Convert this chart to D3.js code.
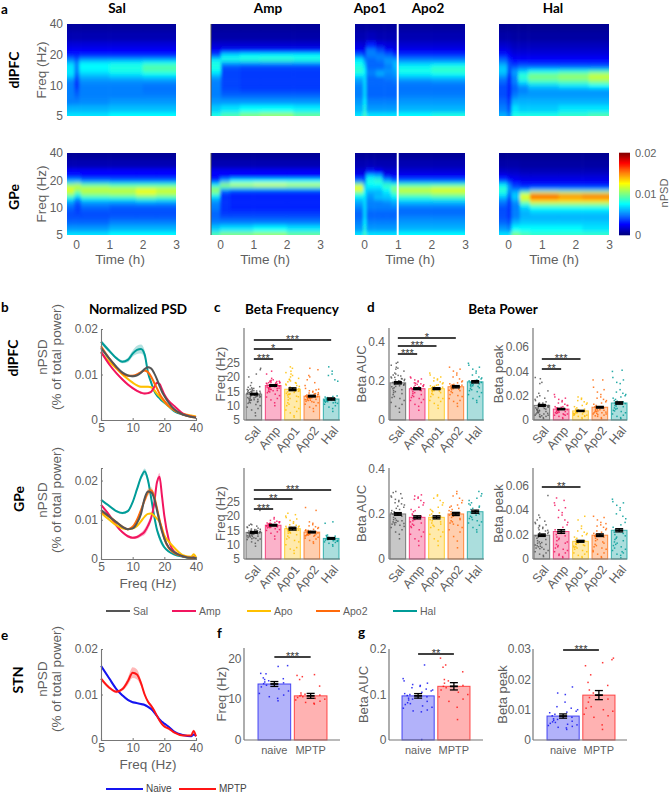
<!DOCTYPE html>
<html><head><meta charset="utf-8">
<script src="https://cdn.jsdelivr.net/npm/d3@7"></script>
<style>html,body{margin:0;padding:0;background:#fff}svg{display:block}</style>
</head><body><svg id="c" width="670" height="793"></svg>
<script>
// ---- shared categories and colours
const groups=["Sal","Amp","Apo1","Apo2","Hal"];
const groupColors=["#555555","#f2155f","#ffc000","#ff6a0a","#009c98"];
const stnGroups=["naive","MPTP"];
const stnColors=["#1515f0","#ff1515"];
// ---- spectrogram rows (Hz); every column = [start time (h), nPSD x 1e-3 per row]
const heatFreqs=[5,6,7,8,9,10,11,12,13,14,15,16,17,18,20,22,25,30,40];
const heatDlSal=[
[-.27,7,6,5,5,5,5,5,6,7,7,7,7,6,5,3,2.5,1.8,1,.6],
[-.05,7,6,5,4.5,4,3.5,3.5,4,4.5,5,5,5,5,4,3,2.5,1.8,1,.6],
[.1,7,6,5.2,5,5,5,5.2,5.8,6.5,7.2,7.5,7.5,7,5.5,3.2,2.5,1.8,1,.6],
[1,7.5,6.2,5.5,5,5,5,5.2,6,7,8,8,8,7.2,5.5,3.2,2.5,1.8,1,.6],
[2,7.5,6.2,5.5,5,4.8,4.8,5.2,6.2,7.6,8.8,9.2,8.8,7.6,5.6,3.2,2.5,1.8,1,.6]];
const heatDlAmp=[
[-.27,8,6.5,5.5,5,5,5,5,5.5,6.5,7.6,8,8,8,7,4,2.5,1.6,.8,.5],
[.03,9,7,5.5,4.5,4,3.8,3.8,3.8,3.8,3.8,4,4.5,6,8,7,3,1.6,.8,.5],
[.6,10,7.5,5.5,4.5,3.8,3.6,3.6,3.6,3.6,3.6,3.8,4.2,6,8.3,7.5,3,1.6,.8,.5],
[1.2,10.5,7.5,5.5,4.5,3.8,3.6,3.6,3.6,3.6,3.6,3.8,4.2,6,8.6,7.5,3,1.6,.8,.5],
[2.2,9.5,7.2,5.5,4.5,3.8,3.6,3.6,3.6,3.6,3.6,3.8,4.2,6,8.2,7.5,3,1.6,.8,.5]];
const heatDlApo=[
[-.27,7,6,5.5,5,5,5,5.5,6,7.5,8.5,8,8,7.5,7,4.5,2.5,1.8,1,.6],
[-.02,9,8,7.5,7,7,7,7,7,7,7.5,7,6.5,6,5,3.5,2.2,1.6,1,.6],
[.06,7,5.5,5,4.5,4.5,4.5,4.5,4.5,5,5,4.5,4.5,4.5,4.5,5,5,3,1.2,.6],
[.35,7,5.5,5,4.5,4.5,4.5,4.5,4.5,6,5.5,4.5,4.5,4.5,5,5,4,2,1,.6],
[.6,7,5.5,5,4.5,4.5,4.5,4.5,5,5,5.5,5,5,5.5,5.5,4.5,2.8,1.8,1,.6],
[.85,7,5.5,5,4.5,4.5,4.5,4.8,5,5.5,5.5,6,6,6,5.5,3.5,2.2,1.6,1,.6],
[1,7.5,6,5.5,5,4.8,4.8,5,6,7.2,8,7.8,7,6,5,3.5,2.3,1.6,1,.6],
[2,8,6,5.5,5,4.8,4.8,5.2,6.2,7.6,8.5,8.5,7.5,6,5,3.5,2.3,1.6,1,.6]];
const heatDlHal=[
[-.27,6,5,4.5,4,4,4,4.5,5,6,6.5,6.5,6,5,4.5,3,2.2,1.5,.8,.4],
[-.03,5,4,3.5,3,3,3,3,3,3.5,4,4,4,3.8,3,2.5,2,1.4,.8,.4],
[.1,8,7,6,5,4.5,4.5,5,5,5.5,5.5,4.5,3.5,3,2.5,2,1.6,1.2,.7,.4],
[.3,8,6.5,6,5.5,5,5.5,7,8.5,8,6.5,5,4,3,2.5,2,1.6,1.2,.7,.4],
[.6,8,6.5,6,5.5,5.5,6.5,8.5,10,9.5,7.5,5,3.8,3,2.5,2,1.6,1.2,.7,.4],
[1.5,8.5,7,6,5.5,5.5,7,9,10.5,10,8,5,3.8,3,2.5,2,1.6,1.2,.7,.4],
[2.4,9,7,6,5.5,5.5,7.5,10,11.5,11,8.5,5,3.8,3,2.5,2,1.6,1.2,.7,.4]];
const heatGpSal=[
[-.27,7,5.5,4.5,4,4,4.5,5,6,8,10,11.5,12,11.5,10,6,3.2,2.6,1,.5],
[-.05,7,5.5,4.5,4,3.8,3.8,4,4.5,6,8,9.5,10.5,11.5,10.5,6,3.2,2.6,1,.5],
[.15,7,5.5,4.5,4,4,4.5,5,6,8,10,11,11.2,11,9,5,2.8,2.6,1,.5],
[1,7.5,6,5,4.2,4,4.2,4.8,6,8.2,10.2,11.2,11.2,10.5,8.5,4.8,2.8,2.6,1,.5],
[1.8,7.5,6,5,4.2,4,4.2,4.8,6.5,9,11,12.5,12,10.5,8.5,4.8,2.8,2.6,1,.5],
[2.4,7.5,6,5,4.2,4,4.2,4.8,6.2,8.5,10.5,11.5,11.5,10.5,8.5,4.8,2.8,2.6,1,.5]];
const heatGpAmp=[
[-.27,9,6.5,5,4.5,4.5,5,5,5.5,6.5,8,10,10.5,9.5,7,3.5,2.5,2.4,1,.5],
[0,10,7,5,4,3.5,3.5,3.5,3.5,3.5,3.5,4,5.5,9,10.5,6,2.5,2.4,1,.5],
[.3,10,7,5,4,3.5,3.2,3.2,3.2,3.2,3.2,3.5,4.5,8.5,11.5,7.5,2.8,2.4,1,.5],
[1,10.5,7.5,5,4,3.5,3.2,3.2,3.2,3.2,3.2,3.5,4.5,8.5,12,7.5,2.8,2.4,1,.5],
[2,9.5,7,5,4,3.5,3.2,3.2,3.2,3.2,3.2,3.5,4.5,8.5,11.5,7.5,2.8,2.4,1,.5]];
const heatGpApo=[
[-.27,7,5.5,5,4.5,4.5,5,5.5,6,7,8,10,12,12.5,10,5,2.8,1.8,1,.5],
[-.02,9,8,7.5,7,7,7,7,7,7,7.5,7.5,7,6.5,6,4,2.5,1.8,1,.5],
[.06,7,5.5,5,4.5,4.5,5,5,5,5.5,5.5,6,6.5,7,7.5,8,7,3,1.1,.5],
[.3,7,5.5,5,4.5,4.5,5,5,5,6.5,6,6,6.5,7,7.5,8.5,6.5,2.5,1,.5],
[.55,7,5.5,5,4.5,4.5,5,5,5.5,6.5,6.5,7,7.5,8.5,8.5,6,3,1.8,1,.5],
[.8,7,5.5,5,4.5,4.5,5,5.5,6,7,8,9,10,10,8,4.5,2.5,1.8,1,.5],
[1,7.5,6,5.5,5,4.5,4.8,5.5,6.5,8,9.5,11,11.5,10.5,8.5,4.5,2.5,1.8,1,.5],
[2,7.5,6,5.5,5,4.5,4.8,5.5,6.5,8.5,10,11.5,12,11,8.5,4.5,2.5,1.8,1,.5]];
const heatGpHal=[
[-.27,7,5.5,4.5,4,4,4,4.5,5,6,7,8,8.5,8,7,4,2.5,1.5,.8,.4],
[-.03,7,5,4,3.5,3.5,3.5,3.5,3.5,4,4.5,5,5.5,5.5,5,3,2.2,1.4,.8,.4],
[.1,10,7.5,6,5,5,5,5,5.5,6.5,6.5,6,5,4,3.5,2.5,2,1.4,.8,.4],
[.35,9,7.5,6.5,6,6,6.5,8,10.5,12,12,9,5,3.5,3,2.2,1.8,1.2,.7,.4],
[.65,8.5,7.5,6.5,6,6.5,7.5,10,13,15.5,15.5,11.5,6,3.5,3,2.2,1.8,1.2,.7,.4],
[1.5,8.5,7.5,6.5,6,6.5,7.5,10,13,14.5,14.5,11,6,3.5,3,2.2,1.8,1.2,.7,.4],
[2.2,8.5,7,6.5,6,6.5,7.5,10,13,15,15,11,6,3.5,3,2.2,1.8,1.2,.7,.4]];
const cbarTicks=[0,10,20];
// ---- PSD curves (nPSD x 1e-3)
const psdFreqs=[5,6,7,8,9,10,11,12,13,14,15,16,17,18,19,20,22,25,30,36,38,40];
const dlHal=[17.2,15.2,13.6,12.8,13.2,14.6,15.4,15.6,14.4,10.4,8.2,6.4,5.4,4.8,4.2,3.8,3,1.9,1.2,.8,.7,.6];
const dlSal=[15.8,13.5,11.7,10.4,9.8,9.6,9.8,10.4,11.2,11.6,11.3,10.3,9,7.5,6.2,5.3,3.8,2.3,1.2,.7,.6,.5];
const dlAmp=[15,12.2,10.3,8.9,7.8,7,6.4,6,5.8,5.9,6.2,7.2,8.2,7.9,6.8,5.6,4.2,3,1.4,.8,.7,.6];
const dlApo=[14.8,12.8,11.3,10,9,8.2,7.6,7.3,7.3,7.3,7.2,6.6,5.8,5.2,4.6,4,3,2.1,1.4,1,.9,.8];
const dlApo2=[16.2,13.5,11.5,10.2,9.7,9.7,10,10.5,10.9,10.5,9.5,8.2,7,5.8,4.9,4.2,3.1,2.1,1.2,.7,.6,.6];
const gpHal=[15.1,13.5,12.2,11.7,12.2,14.5,17.8,20.8,22.3,20,15.5,11,7.5,5.5,4,3,1.9,1.1,.6,.3,.3,.2];
const gpSal=[12.5,10.8,9.4,8.2,7.6,7.8,9.2,11.5,15.5,17.2,17,15.5,12.5,9.5,7,5.2,3,1.7,.7,.3,.3,.2];
const gpAmp=[13.8,11.2,8.5,6.8,5.8,5.4,5.6,6.2,7,8.5,10.5,14,19.5,21,16,11,5,1.8,.7,.4,.3,.3];
const gpApo=[11.8,10,8.6,7.8,7.6,7.8,8.4,9.6,10.8,11.5,11.6,11,10.3,9.5,7.8,6,4.5,2.8,1,.6,1.2,.4];
const gpApo2=[12.2,10.8,9.4,8.2,7.6,8.2,10,12.5,15,17,17.5,16,13,10,7.5,5.2,2.8,1.5,.7,.3,.3,.2];
const stNaive=[16.3,13.5,11.2,9.8,8.8,8.3,8.1,7.9,7.7,7.3,6.8,6.1,5.3,4.5,4,3.6,2.9,1.8,1.1,.8,1.2,.9];
const stMptp=[13.5,11.5,10.6,11.2,12.9,14.8,14.4,12.5,10,8.4,7.5,6.5,5.3,4.3,3.5,3,2.5,1.6,1,1,2,.8];
const semLow=[.4,.3,.25,.25,.25,.25,.25,.25,.25,.25,.25,.25,.2,.2,.2,.2,.15,.1,.1,.1,.1,.1];
const semHal=[.5,.4,.3,.35,.5,.7,.9,1,.9,.6,.4,.3,.2,.2,.2,.2,.15,.1,.1,.1,.1,.1];
const semGpPeak=[.4,.3,.3,.3,.3,.3,.4,.5,.8,.9,.8,.7,.6,.9,.6,.4,.2,.1,.1,.1,.5,.1];
const semMptp=[.4,.3,.3,.4,.8,1.2,1.1,.7,.4,.3,.3,.2,.2,.2,.2,.2,.1,.1,.1,.1,.3,.1];
// ---- bar means and SEMs
const cDlMean=[14,17,15.7,13.3,12.3], cDlSem=[.3,.3,.5,.3,.4];
const cGpMean=[14.3,16.8,15.6,14.4,12.2], cGpSem=[.3,.3,.5,.3,.3];
const aucDlMean=[.19,.16,.16,.17,.195], aucDlSem=[.006,.005,.005,.006,.006];
const aucGpMean=[.2,.185,.185,.2,.21], aucGpSem=[.006,.007,.007,.007,.007];
const pkDlMean=[.012,.009,.0075,.0105,.014], pkDlSem=[.0008,.0006,.0005,.0007,.001];
const pkGpMean=[.0195,.0225,.0145,.0195,.0235], pkGpSem=[.001,.0015,.0008,.0011,.0013];
const fMean=[13.7,10.8], fSem=[.6,.6];
const gAucMean=[.097,.118], gAucSem=[.005,.008];
const gPkMean=[.0079,.0148], gPkSem=[.0007,.0015];
// ---- individual recordings
const cDlPts=[
[6.5,7.5,8.5,9,9.5,10,10.4,10.8,11,11.2,11.5,11.7,12,12,12.2,12.4,12.6,12.8,13,13,13.2,13.4,13.5,13.7,13.8,14,14,14.2,14.3,14.5,14.5,14.7,14.9,15,15,15.2,15.4,15.6,15.8,16,16.2,16.6,17,18,20,21,22.5,23,11.3,11.9,12.1,12.7,13.1,13.3,13.6,13.9,14.1,14.4,14.6,14.8,15.1,15.3,15.7,16.4],
[10,11,12,12.5,13,13.5,14,14.5,14.8,15,15.3,15.5,15.7,15.9,16,16.2,16.3,16.5,16.6,16.8,16.9,17,17,17.2,17.3,17.4,17.5,17.6,17.8,18,18,18.2,18.3,18.5,18.8,19,19.5,21,22,15.2,15.6,16.1,16.4,16.7,17.1,17.7,17.9,18.1,18.4,18.6],
[6,6.5,7.5,8,8.5,9,9.5,10,10.5,11,11.5,12,12.5,13,13.3,13.7,14,14.3,14.6,15,15.2,15.5,15.7,16,16.2,16.5,17,17.2,17.5,18,18.3,18.6,19,19.5,20,20.5,21,21.5,22,23,23.5,13.1,13.9,14.1,14.8,15.1,15.9,16.7,17.8,19.2],
[8,9,9.5,10,10.5,11,11.2,11.5,11.8,12,12.2,12.4,12.6,12.8,13,13,13.2,13.4,13.6,13.8,14,14.2,14.4,14.7,15,15.2,15.5,16,17,18,19,20,20.5,22.5,23,11.4,11.9,12.1,12.5,12.7,12.9,13.1,13.3,13.5,13.7,14.1,14.5,15.7],
[8,9,9.5,10,10.5,10.8,11,11.2,11.4,11.6,11.8,12,12,12.2,12.4,12.6,12.8,13,13.2,13.4,18.5,19,20.5,21,22,23.5,11.1,11.5,11.9,12.3]];
const cGpPts=[
[9.5,10.5,11,11.5,11.8,12,12.2,12.5,12.7,13,13,13.2,13.4,13.6,13.8,14,14,14.2,14.4,14.5,14.7,14.9,15,15,15.3,15.5,15.8,16,16.2,16.5,16.8,17,17.2,22,12.1,12.4,12.9,13.1,13.5,13.7,13.9,14.1,14.3,14.6,14.8,15.1,15.4],
[12,13,14,14.5,15,15.3,15.6,15.9,16,16.2,16.4,16.6,16.8,17,17,17.2,17.4,17.6,17.8,18,18,18.2,18.5,19,19.5,16.1,16.3,16.5,16.7,16.9,17.1,17.3,17.5,17.7],
[7,8,8.5,9,10,11,11.5,12,12.5,13,13.5,14,14.3,14.6,15,15.2,15.5,15.8,16,16.2,16.5,16.8,17,17.5,18,18.5,19,19.5,20,20.5,21,14.1,14.8,15.1,15.4,15.7,16.1,16.4],
[10.5,11,11.5,12,12.3,12.6,13,13.2,13.4,13.6,13.8,14,14.2,14.4,14.6,14.8,15,15.2,15.4,15.7,16,16.3,16.6,17,17.5,18,22,23,13.1,13.3,13.5,13.7,13.9,14.1,14.3,14.5,14.7,14.9],
[9.5,10,10.5,10.8,11,11.2,11.4,11.6,11.8,12,12.2,12.4,12.6,12.8,13,13.2,13.4,17.5,18,11.3,11.5,11.7,11.9,12.1,12.3]];
const aucDlPts=[
[.04,.06,.07,.08,.09,.1,.11,.115,.12,.13,.135,.14,.145,.15,.155,.16,.165,.17,.175,.18,.185,.19,.195,.2,.2,.205,.21,.215,.22,.225,.23,.235,.24,.25,.26,.265,.27,.28,.29,.295,.172,.178,.182,.188,.192,.198,.202,.208,.212,.218,.228],
[.05,.07,.08,.09,.1,.105,.11,.115,.12,.125,.13,.135,.14,.145,.15,.155,.16,.165,.17,.175,.18,.185,.19,.195,.2,.205,.21,.215,.22,.152,.158,.162,.168,.172,.178,.182,.188],
[.06,.075,.085,.095,.1,.11,.115,.12,.13,.135,.14,.145,.15,.155,.16,.165,.17,.175,.18,.185,.19,.195,.2,.205,.21,.215,.22,.23,.24,.148,.152,.158,.162,.168,.172,.178],
[.07,.085,.095,.1,.11,.12,.125,.13,.14,.145,.15,.155,.16,.165,.17,.175,.18,.185,.19,.195,.2,.21,.22,.23,.24,.25,.26,.27,.152,.158,.162,.168,.172,.178,.182],
[.09,.1,.11,.12,.13,.14,.145,.15,.155,.16,.165,.17,.175,.18,.185,.19,.195,.2,.205,.21,.215,.22,.23,.24,.25,.26,.27,.28,.29,.172,.178,.182,.188,.192,.198,.202]];
const aucGpPts=[
[.09,.11,.12,.13,.14,.145,.15,.155,.16,.165,.17,.175,.18,.185,.19,.2,.21,.215,.22,.23,.24,.245,.25,.255,.26,.265,.27,.275,.28,.29,.295,.3,.152,.158,.162,.168,.172,.205,.225,.235],
[.06,.08,.09,.1,.11,.12,.13,.14,.15,.155,.16,.17,.175,.18,.19,.2,.21,.22,.23,.24,.25,.26,.265,.27,.275,.28,.285,.145,.165,.185,.195,.215],
[.06,.08,.09,.1,.11,.12,.13,.14,.15,.16,.165,.17,.18,.185,.19,.2,.21,.22,.23,.24,.25,.26,.27,.28,.285,.145,.155,.175,.195,.205,.215],
[.05,.08,.1,.12,.13,.14,.15,.16,.165,.17,.18,.185,.19,.2,.205,.21,.22,.23,.24,.25,.26,.27,.28,.29,.3,.155,.175,.195,.215,.225,.235],
[.12,.13,.14,.15,.16,.165,.17,.18,.185,.19,.2,.205,.21,.22,.23,.24,.25,.26,.27,.28,.29,.3,.175,.195,.215,.225,.235,.245]];
const pkDlPts=[
[.001,.002,.003,.003,.004,.004,.005,.005,.006,.006,.007,.007,.008,.008,.009,.009,.01,.01,.011,.011,.012,.012,.013,.013,.014,.014,.015,.016,.017,.018,.019,.02,.022,.024,.03,.031,.034,.035,.0025,.0035,.0045,.0055,.0065,.0075,.0085,.0095,.0105,.0115,.0125,.0135],
[.001,.002,.003,.004,.004,.005,.005,.006,.006,.007,.007,.008,.008,.009,.009,.01,.01,.011,.011,.012,.012,.013,.014,.015,.016,.017,.018,.019,.021,.0045,.0055,.0065,.0075,.0085,.0095,.0105],
[.001,.002,.003,.003,.004,.004,.005,.005,.006,.006,.007,.007,.008,.008,.009,.009,.01,.011,.012,.013,.014,.015,.016,.017,.018,.019,.0035,.0045,.0055,.0065,.0075,.0085],
[.001,.002,.003,.004,.005,.005,.006,.006,.007,.007,.008,.008,.009,.009,.01,.011,.012,.013,.014,.015,.016,.017,.018,.019,.021,.023,.025,.027,.033,.033,.0035,.0045,.0055,.0065,.0075,.0085],
[.001,.002,.003,.004,.005,.006,.007,.008,.009,.01,.011,.012,.013,.014,.015,.016,.017,.018,.019,.02,.021,.022,.023,.025,.03,.031,.033,.035,.04,.041,.0075,.0095,.0115,.0135,.0155]];
const pkGpPts=[
[.002,.003,.004,.005,.006,.007,.008,.009,.01,.011,.012,.013,.014,.015,.016,.017,.018,.019,.02,.021,.022,.023,.024,.025,.026,.027,.028,.029,.03,.031,.032,.034,.036,.052,.0085,.0095,.0105,.0115,.0125,.0135,.0215,.0235,.0255,.0275],
[.001,.002,.003,.005,.006,.007,.008,.009,.01,.012,.013,.015,.016,.018,.019,.02,.022,.024,.026,.028,.03,.032,.034,.036,.038,.04,.042,.044,.046,.048,.05,.004,.011,.014,.017,.021],
[.001,.002,.003,.004,.005,.006,.007,.008,.009,.01,.011,.012,.013,.014,.015,.016,.017,.018,.019,.02,.021,.022,.023,.025,.027,.032,.035,.0095,.0105,.0115,.0125,.0135,.0145],
[.001,.002,.004,.005,.006,.008,.009,.01,.011,.012,.013,.015,.016,.017,.018,.019,.02,.021,.022,.024,.025,.026,.027,.028,.03,.032,.034,.035,.007,.014,.0185,.0205,.023,.029],
[.001,.003,.004,.005,.007,.008,.01,.011,.012,.014,.015,.016,.018,.02,.021,.022,.024,.026,.028,.03,.033,.035,.037,.04,.042,.044,.046,.047,.049,.006,.009,.013,.017,.019]];
const fPts=[
[9.6,10.2,10.6,11,11.4,12,12.5,13,13.4,13.8,14,14.2,14.5,14.8,15,15.2,16.2,16.3,18,18.2],
[8.8,9,9.2,9.5,9.8,10,10.2,10.4,10.6,10.8,11,11,11.2,11.5,13.2,14.8,15.5,15.8,16]];
const gAucPts=[
[.001,.062,.064,.066,.07,.072,.075,.078,.08,.082,.085,.088,.09,.092,.095,.098,.1,.102,.105,.108,.11,.112,.115,.118,.12,.122,.125,.13,.135,.165],
[.045,.072,.085,.09,.095,.1,.105,.11,.115,.118,.12,.125,.13,.133,.15,.16,.165,.18]];
const gPkPts=[
[.0035,.004,.0042,.0045,.0048,.005,.0052,.0055,.0058,.006,.0062,.0065,.0068,.007,.0075,.008,.0085,.009,.0092,.0095,.01,.0105,.011,.0125,.015,.0155,.0175],
[.0035,.005,.0075,.008,.0085,.0095,.01,.0105,.011,.0125,.0135,.014,.0155,.0165,.018,.019,.0215,.0245,.0255,.0265,.027]];
// ---- significance brackets
const sigCDl=[{a:"Sal",b:"Hal",s:"***"},{a:"Sal",b:"Apo1",s:"*"},{a:"Sal",b:"Amp",s:"***"}];
const sigCGp=[{a:"Sal",b:"Hal",s:"***"},{a:"Sal",b:"Apo1",s:"**"},{a:"Sal",b:"Amp",s:"***"}];
const sigAucDl=[{a:"Sal",b:"Apo2",s:"*"},{a:"Sal",b:"Apo1",s:"***"},{a:"Sal",b:"Amp",s:"***"}];
const sigPkDl=[{a:"Sal",b:"Apo1",s:"***"},{a:"Sal",b:"Amp",s:"**"}];
const sigPkGp=[{a:"Sal",b:"Apo1",s:"**"}];

// ================= drawing =================
const svg=d3.select("#c");
const SANS="Liberation Sans", BOLD="Lato";
const GREY="#5f5f5f", AX="#777", LBL=13.5;
svg.append("rect").attr("width",670).attr("height",793).attr("fill","#fff");
const defs=svg.append("defs");
defs.append("filter").attr("id","soft").attr("filterUnits","userSpaceOnUse").attr("x",0).attr("y",0).attr("width",670).attr("height",793)
  .append("feGaussianBlur").attr("stdDeviation","1.5 2.2");

function txt(x,y,s,o={}){
  const t=svg.append("text").attr("x",x).attr("y",y).text(s)
   .style("font-family",o.bold?BOLD:SANS).style("font-weight",o.bold?700:400)
   .style("font-size",(o.size||12)+"px").attr("fill",o.fill||(o.bold?"#000":GREY))
   .attr("text-anchor",o.anchor||"middle");
  if(o.rot!==undefined) t.attr("transform",`rotate(${o.rot} ${x} ${y})`);
  return t;
}
function styleAxis(g,noLine,noTicks,size){
  g.selectAll("text").style("font-family",SANS).style("font-size",(size||12)+"px").attr("fill",GREY);
  g.select(".domain").attr("stroke",AX).attr("stroke-width",1.1);
  if(noLine) g.select(".domain").remove();
  g.selectAll(".tick line").attr("stroke",AX);
  if(noTicks) g.selectAll(".tick line").remove();
}
const jet=d3.scaleLinear().domain([0,2.5,7.5,12.5,17.5,20]).range(["#00007f","#0000ff","#00ffff","#ffff00","#ff0000","#7f0000"]).clamp(true);
let clipN=0;
function heat(cols,x0,x1,yTop,yBot,showY,showX,labelX,darkEdge){
  const x=d3.scaleLinear().domain([-.27,3]).range([x0,x1]);
  const y=d3.scaleLog().base(2).domain([5,40]).range([yBot,yTop]);
  const id="cl"+(clipN++);
  defs.append("clipPath").attr("id",id).append("rect").attr("x",x0).attr("y",yTop).attr("width",x1-x0).attr("height",yBot-yTop);
  const g=svg.append("g").attr("clip-path",`url(#${id})`).append("g").attr("filter","url(#soft)");
  const edges=heatFreqs.map((f,i)=>i==0?null:Math.sqrt(f*heatFreqs[i-1]));
  cols.forEach((c,ci)=>{
    const a=ci==0?x(c[0])-8:x(c[0]), b=ci==cols.length-1?x(3)+8:x(cols[ci+1][0]);
    heatFreqs.forEach((f,ri)=>{
      const lo=ri==0?yBot+8:y(edges[ri]), hi=ri==heatFreqs.length-1?yTop-8:y(edges[ri+1]);
      g.append("rect").attr("x",a).attr("y",hi).attr("width",b-a+.6).attr("height",lo-hi+.6).attr("fill",jet(c[ri+1]));
    });
  });
  if(darkEdge) svg.append("line").attr("x1",x0).attr("x2",x0).attr("y1",yTop).attr("y2",yBot).attr("stroke","#555").attr("stroke-width",1);
  if(showY){
    const ax=svg.append("g").attr("transform",`translate(${x0},0)`).call(d3.axisLeft(y).tickValues([5,10,20,40]).tickFormat(d3.format("d")).tickSize(0).tickPadding(4));
    styleAxis(ax,true,true);
    txt(41,(yTop+yBot)/2,"Freq (Hz)",{rot:-90,anchor:"middle",size:LBL}).attr("dy","0.35em");
  }
  if(showX){
    const ax=svg.append("g").attr("transform",`translate(0,${yBot})`).call(d3.axisBottom(x).tickValues([0,1,2,3]).tickFormat(d3.format("d")).tickSize(0).tickPadding(5));
    styleAxis(ax,true,true);
    txt(labelX,yBot+29,"Time (h)",{size:LBL});
  }
  return x;
}
// panel a
[[heatDlSal,67,176,1,0,120,0],[heatDlAmp,211,320,0,0,265,1],[heatDlApo,355,465,0,0,410,0],[heatDlHal,499,609,0,0,554,0]]
 .forEach(p=>{const x=heat(p[0],p[1],p[2],24,116,p[3],p[4],p[5],p[6]);
   if(p[0]===heatDlApo) svg.append("line").attr("x1",x(1)).attr("x2",x(1)).attr("y1",23).attr("y2",117).attr("stroke","#fff").attr("stroke-width",2);});
[[heatGpSal,67,176,1,1,120,0],[heatGpAmp,211,320,0,1,265,1],[heatGpApo,355,465,0,1,410,0],[heatGpHal,499,609,0,1,554,0]]
 .forEach(p=>{const x=heat(p[0],p[1],p[2],153,235,p[3],p[4],p[5],p[6]);
   if(p[0]===heatGpApo) svg.append("line").attr("x1",x(1)).attr("x2",x(1)).attr("y1",152).attr("y2",236).attr("stroke","#fff").attr("stroke-width",2);});
// colour bar
(function(){
  const y=d3.scaleLinear().domain([0,20]).range([235,153]);
  svg.append("g").selectAll("rect").data(d3.range(0,20,.25)).join("rect")
   .attr("x",619).attr("width",11).attr("y",d=>y(d+.25)-.3).attr("height",y(0)-y(.25)+.6).attr("fill",d=>jet(d));
  const ax=svg.append("g").attr("transform","translate(630,0)").call(d3.axisRight(y).tickValues(cbarTicks).tickFormat(d=>d/1000).tickSize(0).tickPadding(5));
  styleAxis(ax,true,true,11);
  txt(668,193,"nPSD",{rot:-90,size:11});
})();
// titles
[["Sal",117],["Amp",268],["Apo1",370],["Apo2",428],["Hal",553]].forEach(d=>txt(d[1],13,d[0],{bold:1,size:13.5}));
[["a",1,14],["b",1,312],["c",214,312],["d",367,312],["e",1,640],["f",217,638],["g",358,637]].forEach(d=>txt(d[1],d[2],d[0],{bold:1,size:13.5,anchor:"start"}));
[["dlPFC",19,70],["GPe",19,197],["dlPFC",18,358],["GPe",24,499],["STN",23,680]].forEach(d=>txt(d[1],d[2],d[0],{bold:1,size:14,rot:-90}));
txt(138,314,"Normalized PSD",{bold:1,size:13.5});
txt(292,314,"Beta Frequency",{bold:1,size:13.5});
txt(503,314,"Beta Power",{bold:1,size:13.5});

// PSD line panels
function psd(series,yTop,yBot,yMax,ticks,showLabel,labelC){
  const x=d3.scaleLog().base(2).domain([5,40]).range([101,196]);
  const y=d3.scaleLinear().domain([0,yMax]).range([yBot,yTop]);
  const line=d3.line().x((d,i)=>x(psdFreqs[i])).y(d=>y(d)).curve(d3.curveMonotoneX);
  series.forEach(s=>{
    svg.append("path").attr("fill",s.color).attr("fill-opacity",.3)
     .attr("d",d3.area().x((d,i)=>x(psdFreqs[i])).y0((d,i)=>y(d-s.sem[i])).y1((d,i)=>y(d+s.sem[i])).curve(d3.curveMonotoneX)(s.v));
    svg.append("path").attr("fill","none").attr("stroke",s.color).attr("stroke-width",2).attr("d",line(s.v));
  });
  const ax=svg.append("g").attr("transform",`translate(101,0)`).call(d3.axisLeft(y).tickValues(ticks).tickFormat(d=>d/1000).tickSize(-2).tickPadding(3));
  styleAxis(ax);
  const bx=svg.append("g").attr("transform",`translate(0,${yBot})`).call(d3.axisBottom(x).tickValues([5,10,20,40]).tickFormat(d3.format("d")).tickSize(-2).tickPadding(3));
  styleAxis(bx);
  txt(47,labelC,"nPSD",{rot:-90,size:LBL});
  txt(61,labelC,"(% of total power)",{rot:-90,size:LBL});
  if(showLabel) txt(148,yBot+29,"Freq (Hz)",{size:LBL});
}
const C=groupColors;
psd([{v:dlHal,sem:semHal,color:C[4]},{v:dlApo,sem:semLow,color:C[2]},{v:dlAmp,sem:semLow,color:C[1]},{v:dlApo2,sem:semLow,color:C[3]},{v:dlSal,sem:semLow,color:C[0]}],329,420,20,[0,10,20],false,357);
psd([{v:gpHal,sem:semGpPeak,color:C[4]},{v:gpAmp,sem:semGpPeak,color:C[1]},{v:gpApo,sem:semLow,color:C[2]},{v:gpApo2,sem:semGpPeak,color:C[3]},{v:gpSal,sem:semLow,color:C[0]}],468,559,23.2,[0,10,20],true,500);
psd([{v:stNaive,sem:semLow,color:stnColors[0]},{v:stMptp,sem:semMptp,color:stnColors[1]}],649,740,20,[0,10,20],true,679);
// legends
[["Sal",106,C[0]],["Amp",172,C[1]],["Apo",247,C[2]],["Apo2",316,C[3]],["Hal",393,C[4]]].forEach(d=>{
  svg.append("line").attr("x1",d[1]).attr("x2",d[1]+24).attr("y1",611).attr("y2",611).attr("stroke",d[2]).attr("stroke-width",2);
  txt(d[1]+27,615,d[0],{anchor:"start",size:10.5});
});
[["Naive",106,stnColors[0]],["MPTP",179,stnColors[1]]].forEach(d=>{
  svg.append("line").attr("x1",d[1]).attr("x2",d[1]+37).attr("y1",789).attr("y2",789).attr("stroke",d[2]).attr("stroke-width",2);
  txt(d[1]+40,792,d[0],{anchor:"start",size:10,fill:"#444"});
});

// bar panels
function bars(o){
  const y=d3.scaleLinear().domain(o.domain).range(o.yRange);
  const x=d3.scaleBand().domain(o.cats).range(o.xRange).paddingInner(o.pad);
  const base=o.yRange[0];
  o.cats.forEach((c,i)=>{
    const col=o.colors[i], bx=x(c), w=x.bandwidth();
    svg.append("rect").attr("x",bx).attr("y",y(o.mean[i])).attr("width",w).attr("height",base-y(o.mean[i]))
      .attr("fill",col).attr("fill-opacity",.33).attr("stroke",col).attr("stroke-opacity",.75).attr("stroke-width",1);
    svg.append("g").selectAll("rect").data(o.pts[i]).join("rect")
      .attr("x",(d,k)=>bx+1+(((k+1)*.6180339+(k*k)*.37)%1)*(w-2)-.7).attr("y",d=>y(d)-.7)
      .attr("width",1.5).attr("height",1.5).attr("fill",col).attr("fill-opacity",.85);
    const cx=bx+w/2, m=y(o.mean[i]), a=y(o.mean[i]+o.sem[i]), b=y(o.mean[i]-o.sem[i]), cap=o.cap||4;
    const g=svg.append("g").attr("stroke","#000").attr("stroke-width",1.3);
    g.append("line").attr("x1",cx).attr("x2",cx).attr("y1",a).attr("y2",b);
    g.append("line").attr("x1",cx-cap).attr("x2",cx+cap).attr("y1",a).attr("y2",a);
    g.append("line").attr("x1",cx-cap).attr("x2",cx+cap).attr("y1",b).attr("y2",b);
    g.append("line").attr("x1",cx-cap).attr("x2",cx+cap).attr("y1",m).attr("y2",m).attr("stroke-width",1.8);
  });
  const ax=svg.append("g").attr("transform",`translate(${o.axisX},0)`).call(d3.axisLeft(y).tickValues(o.ticks).tickFormat(o.fmt||(d=>d)).tickSize(0).tickPadding(o.tickPad||4));
  styleAxis(ax,false,true);
  ax.select(".domain").attr("d",`M0,${base}V${o.yTop}`).attr("stroke-width",1.2);
  svg.append("line").attr("x1",o.axisX).attr("x2",o.axisEnd).attr("y1",base).attr("y2",base).attr("stroke",AX).attr("stroke-width",1.1);
  if(o.rot){
    o.cats.forEach(c=>{
      const px=x(c)+x.bandwidth()/2+2;
      svg.append("text").attr("transform",`translate(${px},${base+6}) rotate(-50)`).attr("text-anchor","end").attr("dy","0.6em")
       .style("font-family",SANS).style("font-size","12.5px").attr("fill",GREY).text(c);
    });
  }else{
    o.cats.forEach(c=>txt(x(c)+x.bandwidth()/2,base+14,c,{size:11}));
  }
  txt(o.labelX,(base+o.yTop)/2,o.label,{rot:-90,size:13}).attr("dy","0.35em");
  (o.sig||[]).forEach((s,i)=>{
    const x1=x(s.a)+x.bandwidth()/2, x2=x(s.b)+x.bandwidth()/2;
    svg.append("line").attr("x1",x1).attr("x2",x2).attr("y1",o.sigY[i]).attr("y2",o.sigY[i]).attr("stroke","#000").attr("stroke-width",1.5);
    txt((x1+x2)/2,o.sigY[i]+3,s.s,{size:11,fill:"#333"});
  });
}
const X1=[246,339],X2=[390,483],X3=[534,627];
const P=.19;
bars({cats:groups,colors:C,mean:cDlMean,sem:cDlSem,pts:cDlPts,domain:[5,37],yRange:[420,328],yTop:328,xRange:X1,pad:P,axisX:244,axisEnd:340,ticks:[5,10,15,20,25],rot:1,label:"Freq (Hz)",labelX:220,sig:sigCDl,sigY:[340,349,359]});
bars({cats:groups,colors:C,mean:aucDlMean,sem:aucDlSem,pts:aucDlPts,domain:[0,.47],yRange:[420,328],yTop:328,xRange:X2,pad:P,axisX:389,axisEnd:484,ticks:[0,.2,.4],rot:1,label:"Beta AUC",labelX:361,sig:sigAucDl,sigY:[338,346,354]});
bars({cats:groups,colors:C,mean:pkDlMean,sem:pkDlSem,pts:pkDlPts,domain:[0,.0757],yRange:[420,328],yTop:328,xRange:X3,pad:P,axisX:533,axisEnd:627,ticks:[0,.02,.04,.06],rot:1,label:"Beta peak",labelX:498,sig:sigPkDl,sigY:[359,369]});
bars({cats:groups,colors:C,mean:cGpMean,sem:cGpSem,pts:cGpPts,domain:[5,36.8],yRange:[559,468],yTop:468,xRange:X1,pad:P,axisX:244,axisEnd:340,ticks:[5,10,15,20,25],rot:1,label:"Freq (Hz)",labelX:220,sig:sigCGp,sigY:[490,499,509]});
bars({cats:groups,colors:C,mean:aucGpMean,sem:aucGpSem,pts:aucGpPts,domain:[0,.404],yRange:[559,468],yTop:468,xRange:X2,pad:P,axisX:389,axisEnd:484,ticks:[0,.2,.4],rot:1,label:"Beta AUC",labelX:361});
bars({cats:groups,colors:C,mean:pkGpMean,sem:pkGpSem,pts:pkGpPts,domain:[0,.0745],yRange:[559,468],yTop:468,xRange:X3,pad:P,axisX:533,axisEnd:627,ticks:[0,.02,.04,.06],rot:1,label:"Beta peak",labelX:498,sig:sigPkGp,sigY:[487]});
bars({cats:stnGroups,colors:stnColors,mean:fMean,sem:fSem,pts:fPts,domain:[0,22.5],yRange:[740,648],yTop:648,xRange:[258,327],pad:.1,cap:4,tickPad:2.5,axisX:244,axisEnd:340,ticks:[0,10,20],rot:0,label:"Freq (Hz)",labelX:221,sig:[{a:"naive",b:"MPTP",s:"***"}],sigY:[657]});
bars({cats:stnGroups,colors:stnColors,mean:gAucMean,sem:gAucSem,pts:gAucPts,domain:[0,.2],yRange:[740,649],yTop:649,xRange:[402,470],pad:.1,cap:4,tickPad:2.5,axisX:389,axisEnd:483,ticks:[0,.1,.2],rot:0,label:"Beta AUC",labelX:363,sig:[{a:"naive",b:"MPTP",s:"**"}],sigY:[654]});
bars({cats:stnGroups,colors:stnColors,mean:gPkMean,sem:gPkSem,pts:gPkPts,domain:[0,.03],yRange:[740,649],yTop:649,xRange:[547,615],pad:.1,cap:4,tickPad:2,axisX:533,axisEnd:627,ticks:[0,.01,.02,.03],rot:0,label:"Beta peak",labelX:502,sig:[{a:"naive",b:"MPTP",s:"***"}],sigY:[650]});
</script></body></html>
